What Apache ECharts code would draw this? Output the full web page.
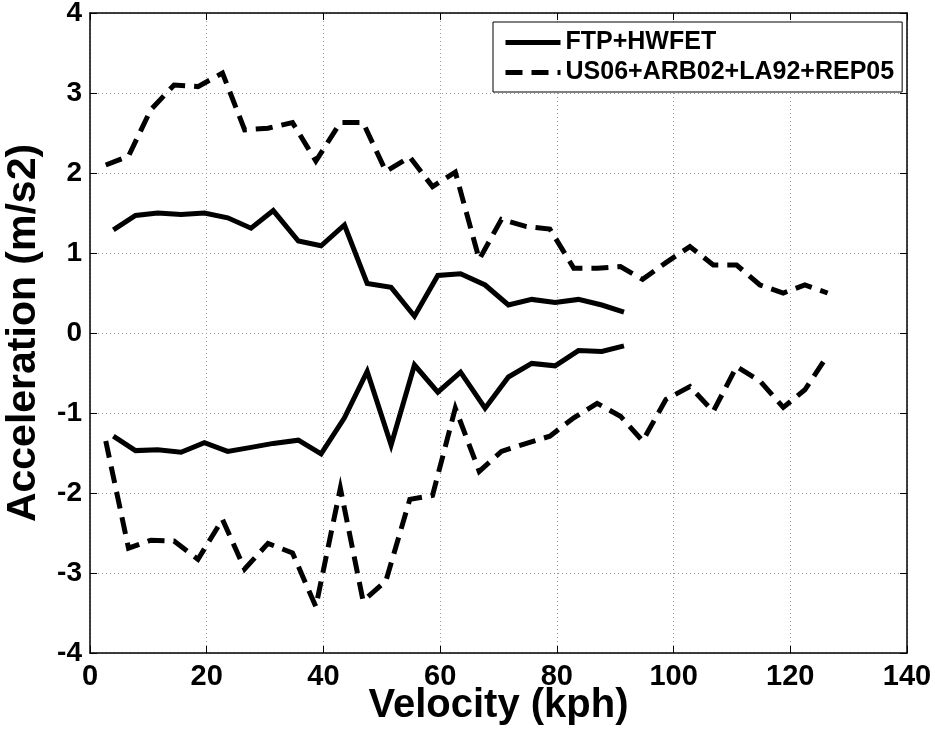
<!DOCTYPE html>
<html><head><meta charset="utf-8">
<script src="https://cdn.jsdelivr.net/npm/echarts@6/dist/echarts.min.js"></script>
<style>html,body{margin:0;padding:0;background:#fff}#c{width:935px;height:731px}</style>
</head><body><div id="c"></div>
<script>
// Velocities (kph)
const solidX = [4.0,7.8,11.6,15.6,19.6,23.6,27.6,31.4,35.7,39.6,43.6,47.5,51.6,55.6,59.6,63.5,67.7,71.7,75.7,79.7,83.7,87.7,91.5];
const solidUpper = [1.29,1.47,1.50,1.48,1.50,1.44,1.31,1.53,1.15,1.09,1.35,0.62,0.57,0.21,0.72,0.74,0.60,0.35,0.42,0.38,0.42,0.35,0.26];
const solidLower = [-1.29,-1.47,-1.46,-1.49,-1.37,-1.48,-1.43,-1.38,-1.34,-1.51,-1.06,-0.48,-1.40,-0.40,-0.74,-0.49,-0.94,-0.55,-0.38,-0.41,-0.22,-0.23,-0.16];
const dashX = [2.7,6.6,10.4,14.4,18.5,22.7,26.5,30.5,34.7,38.7,42.9,46.8,50.7,54.8,58.7,62.6,66.7,70.5,74.8,78.8,82.9,86.9,90.9,94.7,98.7,102.8,106.8,110.8,114.8,118.8,122.5,126.4];
const dashUpper = [2.10,2.21,2.79,3.10,3.08,3.25,2.54,2.56,2.63,2.15,2.63,2.63,2.02,2.20,1.83,2.01,0.92,1.42,1.33,1.30,0.81,0.81,0.83,0.67,0.88,1.08,0.85,0.85,0.60,0.50,0.60,0.50];
const dashLower = [-1.35,-2.69,-2.59,-2.60,-2.83,-2.33,-2.95,-2.63,-2.75,-3.42,-1.94,-3.35,-3.10,-2.08,-2.03,-0.94,-1.73,-1.48,-1.38,-1.29,-1.06,-0.88,-1.04,-1.35,-0.83,-0.67,-0.98,-0.42,-0.60,-0.93,-0.71,-0.28];
const seriesNames = ['FTP+HWFET','US06+ARB02+LA92+REP05'];
const xTitle = 'Velocity (kph)';
const yTitle = 'Acceleration (m/s2)';

const zip = (xs, ys) => xs.map((x, i) => [x, ys[i]]);
const FONT = '"Liberation Sans", Arial, sans-serif';
const solidStyle = {color:'#000', width:5, type:'solid', cap:'butt', join:'miter'};
const dashStyle = {color:'#000', width:5, type:[17,9], cap:'butt', join:'miter'};
const mk = (name, data, ls) => ({
  name, type:'line', data, showSymbol:false, symbol:'none', lineStyle:ls,
  itemStyle:{color:'#000'}, animation:false, z:3, silent:true
});
const grid = {left:90, right:28, top:13, bottom:78, containLabel:false, outerBoundsMode:'none'};
const splitLine = {show:true, lineStyle:{color:'#999', type:[1,3], width:1}};
const chart = echarts.init(document.getElementById('c'), null, {renderer:'canvas'});
chart.setOption({
  backgroundColor:'#fff',
  animation:false,
  grid,
  legend:{
    data:seriesNames,
    orient:'vertical', left:493, top:22,
    backgroundColor:'#fff', borderColor:'#000', borderWidth:1,
    padding:[8,8,7,10], itemGap:5, itemWidth:55, itemHeight:20,
    itemStyle:{opacity:0},
    lineStyle:{width:5, cap:'butt'},
    textStyle:{fontFamily:FONT, fontWeight:'bold', fontSize:25, color:'#000'},
    z:10
  },
  xAxis:[{
    type:'value', min:0, max:140, interval:20, position:'bottom',
    axisLine:{show:true, onZero:false, lineStyle:{color:'#000', width:1.5}},
    axisTick:{show:true, inside:true, length:7, lineStyle:{color:'#000'}},
    axisLabel:{color:'#000', fontFamily:FONT, fontWeight:'bold', fontSize:29, margin:9},
    splitLine,
    name:xTitle, nameLocation:'middle', nameGap:33, nameMoveOverlap:false,
    nameTextStyle:{color:'#000', fontFamily:FONT, fontWeight:'bold', fontSize:40, verticalAlign:'top'}
  },{
    type:'value', min:0, max:140, interval:20, position:'top',
    axisLine:{show:true, onZero:false, lineStyle:{color:'#000', width:1.5}},
    axisTick:{show:true, inside:true, length:7, lineStyle:{color:'#000'}},
    axisLabel:{show:false}, splitLine:{show:false}
  }],
  yAxis:[{
    type:'value', min:-4, max:4, interval:1, position:'left',
    axisLine:{show:true, onZero:false, lineStyle:{color:'#000', width:1.5}},
    axisTick:{show:true, inside:true, length:7, lineStyle:{color:'#000'}},
    axisLabel:{color:'#000', fontFamily:FONT, fontWeight:'bold', fontSize:28, margin:8},
    splitLine,
    name:yTitle, nameLocation:'middle', nameGap:46, nameRotate:90, nameMoveOverlap:false,
    nameTextStyle:{color:'#000', fontFamily:FONT, fontWeight:'bold', fontSize:41}
  },{
    type:'value', min:-4, max:4, interval:1, position:'right',
    axisLine:{show:true, onZero:false, lineStyle:{color:'#000', width:1.5}},
    axisTick:{show:true, inside:true, length:7, lineStyle:{color:'#000'}},
    axisLabel:{show:false}, splitLine:{show:false}
  }],
  series:[
    mk(seriesNames[0], zip(solidX, solidUpper), solidStyle),
    mk(seriesNames[1], zip(dashX, dashUpper), dashStyle),
    mk(seriesNames[0], zip(solidX, solidLower), solidStyle),
    mk(seriesNames[1], zip(dashX, dashLower), dashStyle)
  ]
});
</script></body></html>
